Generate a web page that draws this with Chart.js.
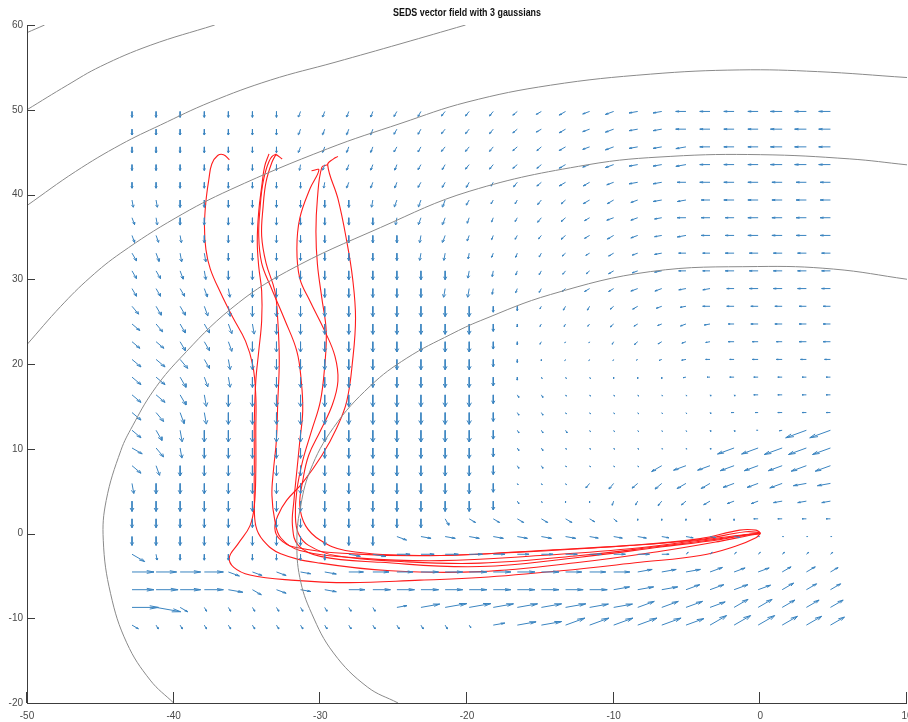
<!DOCTYPE html>
<html>
<head>
<meta charset="utf-8">
<script src="https://cdn.jsdelivr.net/npm/chart.js@4.4.1/dist/chart.umd.min.js"></script>
<style>
  html, body { margin: 0; padding: 0; background: #fff; }
  #wrap { width: 908px; height: 722px; position: relative; }
</style>
</head>
<body>
<div id="wrap"><canvas id="chart"></canvas></div>
<script>
const TITLE = 'SEDS vector field with 3 gaussians';
const xTicks = [-50, -40, -30, -20, -10, 0, 10];
const yTicks = [-20, -10, 0, 10, 20, 30, 40, 50, 60];

// quiver grid: x of each column, y of each row (arrow tails)
const gridX = [-42.84, -41.2, -39.56, -37.91, -36.27, -34.63, -32.99, -31.35, -29.7, -28.06,
  -26.42, -24.78, -23.14, -21.49, -19.85, -18.21, -16.57, -14.93, -13.28, -11.64,
  -10.0, -8.36, -6.72, -5.07, -3.43, -1.79, -0.15, 1.49, 3.14, 4.78];
const gridY = [49.8, 47.71, 45.62, 43.53, 41.44, 39.35, 37.26, 35.17, 33.08, 30.99,
  28.9, 26.81, 24.72, 22.63, 20.54, 18.45, 16.36, 14.27, 12.18, 10.09,
  8.0, 5.91, 3.82, 1.73, -0.36, -2.45, -4.54, -6.63, -8.72, -10.81];

// arrow direction per cell, base36 digit * 10 degrees (0 = right, 270 = down)
const dirRows = [
  'rrrrrrrppppoonn' + 'nmllkkjjiiiiiii',
  'rrrrrrrppppoonn' + 'nmllkkjjiiiiiii',
  'rrrrrrrppppoonn' + 'nmmlkkjjjiiiiii',
  'rrrrrrrqppppoon' + 'nmmlkkjjjiiiiii',
  'rrrrrrrrqpppooo' + 'onmllkjjiiiiiii',
  'ssrrrrrrrrqpppo' + 'oonmllkjjiiiiii',
  'tsrrrrrrrrrqppp' + 'ponmlkkjiiiiiii',
  'ttsrrrrrrrrrqpp' + 'ponmllkjjiiiiii',
  'utssrrrrrrrrqqq' + 'ppomllkjiiiiiii',
  'uutsrrrrrrrrrrq' + 'qponmlkjiiiiiii',
  'uuutsrrrrrrrrqq' + 'qpomllkkjjiiiii',
  'vuutsrrrrrrrrrr' + 'rrooomlkjiiiiii',
  'wvuutsrrrrrrrrr' + 'rroonmlkkjiiiii',
  'wwuutrrrrrrrrrr' + 'rroooomlkjiiiii',
  'wwvusrrrrrrrrrr' + 'rrrooolkjiiiiii',
  'wwutsrrrrrrrrrr' + 'rruuurrrjiiiiii',
  'wwusrrrrrrrrrrr' + 'ruuuuuuuuuuiiii',
  'wvtsrrrrrrrrrrr' + 'ruuuuuuuuuiiiii',
  'wusrrrrrrrrrrrr' + 'ruuuuuuuuuuijkk',
  'xvsrrrrrrrrrrrr' + 'ruuuuuuuuukkkkk',
  'wtrrrrrrrrrrrrr' + 'ruuuuuulkkkkkkk',
  'srrrrrrrrrrrrrr' + 'ruuunnmmllkkkjj',
  'rrrrrrrrrrrrrrr' + 'ruurrponmlkkjjj',
  'rrrrrrrrrrrrrux' + 'xxxxxwrrrrriiii',
  'rrrrrrrrrrryzzz' + 'zzzzzzzzzzz0000',
  'xsrrrrrrrzz0000' + '000000004444444',
  '0000yyyzz000000' + '000000111222333',
  '0000zxyzz000000' + '000001112222333',
  '0zxuuuuuuuu1111' + '111111222233333',
  'xuuuuuuuuuuuuuu' + '111222222333333'
];
// arrow length per cell, base36 digit (units of LEN_UNIT)
const lenRows = [
  '444444444444444' + '444556667777888',
  '444444444444444' + '444556667777888',
  '444444444444444' + '444556667777888',
  '444444444444444' + '444556667777888',
  '444444444444444' + '344555666777777',
  '555555555555554' + '334455566677777',
  '555555555555554' + '334445556667777',
  '555555555555554' + '333445556667777',
  '666655555555554' + '333334455566666',
  '666666666666665' + '433334455566666',
  '666666666666666' + '433344555556666',
  '777777777777777' + '432333444555555',
  '777777777777777' + '522223334445555',
  '777777777777777' + '522112333344455',
  '888777777777777' + '521111123334444',
  '888777777777777' + '621111112233333',
  '888888888888888' + '622111111113333',
  '888888888888888' + '622111111122333',
  '888888888888888' + '6222111111112ff',
  '887777777777777' + '6221111111ccddd',
  '877777777777777' + '6221111899aaabb',
  '777777777777777' + '611145567788999',
  '777777777777777' + '621113344555666',
  '666666666666655' + '555543111113333',
  '666666666667777' + '777766655441111',
  'a44444444899999' + '888888852222222',
  'feed87778abbccc' + 'cccbbbaaa988776',
  'ffeda7778bccccc' + 'cccccbbbaaa9988',
  'ih6333333337dff' + 'eeeeddcccbbbaaa',
  '533333333333332' + '8deeeeeeddddccb'
];

// gaussian contour arcs (gray)
const contour1 = [[-50, 59.1], [-48.8, 60]];
const contour2 = [[-50, 50.0], [-47.25, 52.9], [-45.0, 55.1], [-41.6, 57.6], [-37.2, 60.0]];
const contour3 = [[-50, 38.7], [-46.7, 42.7], [-43.6, 45.9], [-40.9, 48.2], [-37.5, 50.9], [-33.4, 53.5],
  [-29.0, 55.6], [-24.5, 57.8], [-20.1, 60.0]];
const contour4 = [[-50, 22.3], [-47.7, 26.8], [-45.7, 30.2], [-43.6, 33.1], [-39.9, 37.2], [-36.1, 40.6],
  [-29.5, 45.4], [-24.5, 48.4], [-20.0, 50.9], [-14.3, 52.9], [-7.5, 54.2], [-1.4, 54.7], [3.9, 54.5], [10, 53.8]];
const contour5 = [[-40.0, -20.0], [-41.6, -17.3], [-43.2, -12.9], [-44.3, -7.1], [-44.8, -0.8], [-44.6, 3.9],
  [-43.6, 9.8], [-42.8, 12.7], [-41.4, 16.8], [-39.6, 20.6], [-36.1, 26.5], [-32.3, 30.9], [-25.9, 36.1],
  [-19.8, 40.4], [-11.8, 43.5], [-6.1, 44.5], [0, 44.7], [6.1, 44.2], [10, 43.5]];
const contour6 = [[-24.7, -20.0], [-26.8, -18.1], [-29.1, -14.1], [-30.6, -9.4], [-31.4, -5.2], [-31.6, -0.8],
  [-31.4, 2.7], [-30.7, 7.4], [-29.1, 12.5], [-26.6, 17.4], [-24.1, 20.7], [-21.1, 23.5], [-19.1, 25.1],
  [-14.3, 28.2], [-7.5, 30.9], [-0.2, 31.5], [5.0, 31.2], [10, 30.0]];

// demonstration trajectories (red)
const traj1 = [[-36.2, 44.1], [-36.6, 44.7], [-37.0, 44.6], [-37.4, 43.6], [-37.6, 41.8], [-37.8, 39.2], [-37.9, 36.2],
  [-37.8, 33.5], [-37.5, 31.2], [-36.8, 28.4], [-36.0, 25.6], [-35.1, 22.7], [-34.6, 19.8], [-34.4, 16.2], [-34.4, 12.1],
  [-34.4, 7.4], [-34.5, 3.3], [-34.8, 0.9], [-35.6, -1.2], [-36.2, -2.8], [-35.9, -4.0], [-34.8, -4.9], [-32.0, -5.5],
  [-28.0, -5.8], [-23.2, -5.5], [-19.1, -5.2], [-13.6, -4.4], [-8.2, -3.4], [-4.1, -2.6], [-1.7, -1.5], [-0.3, -0.5], [0, 0]];
const traj2 = [[-33.5, 44.8], [-33.8, 43.3], [-34.0, 40.9], [-34.2, 38.0], [-34.3, 34.5], [-34.2, 31.5], [-34.0, 28.6],
  [-34.0, 25.1], [-34.2, 21.5], [-34.4, 18.0], [-34.5, 13.3], [-34.5, 8.6], [-34.5, 3.9], [-34.4, 0.9], [-33.9, -0.8],
  [-32.7, -2.4], [-30.0, -3.5], [-25.2, -4.4], [-19.1, -4.5], [-12.3, -3.4], [-6.8, -2.1], [-2.7, -0.9], [-0.7, -0.2], [0, 0]];
const traj3 = [[-32.6, 44.2], [-33.1, 44.7], [-33.5, 43.9], [-33.9, 41.5], [-34.1, 38.6], [-34.2, 35.1], [-34.0, 31.9],
  [-33.4, 29.2], [-32.4, 25.1], [-31.6, 21.5], [-31.3, 18.0], [-31.2, 14.5], [-31.4, 10.9], [-31.6, 7.4], [-31.8, 3.9],
  [-31.9, 0.9], [-31.5, -1.4], [-30.0, -2.7], [-25.9, -3.4], [-19.1, -3.9], [-12.3, -2.8], [-6.8, -1.6], [-2.7, -0.7],
  [-0.7, -0.1], [0, 0]];
const traj4 = [[-33.0, 44.8], [-33.3, 43.8], [-33.7, 41.5], [-33.9, 38.6], [-34.0, 35.1], [-33.7, 31.9], [-33.1, 28.6],
  [-32.9, 25.1], [-32.8, 20.4], [-32.9, 15.6], [-33.0, 10.9], [-33.2, 7.4], [-33.3, 4.5], [-33.1, 1.5], [-32.7, -0.5],
  [-31.4, -2.0], [-27.3, -2.9], [-21.8, -3.2], [-15.0, -2.6], [-8.9, -1.8], [-4.1, -0.8], [-1.4, -0.2], [0, 0]];
const traj5 = [[-30.6, 42.8], [-30.1, 42.9], [-30.7, 40.7], [-31.4, 37.2], [-31.6, 33.6], [-31.4, 30.1], [-30.7, 27.4],
  [-29.7, 23.9], [-29.0, 20.9], [-28.8, 18.0], [-29.2, 15.1], [-30.0, 12.1], [-30.8, 9.2], [-31.2, 6.2], [-31.4, 3.3],
  [-31.0, 0.9], [-30.0, -0.8], [-28.3, -2.0], [-23.2, -2.6], [-16.4, -2.2], [-9.6, -1.5], [-4.1, -0.7], [-1.0, 0.2], [0, 0.1]];
const traj6 = [[-29.5, 43.5], [-29.9, 43.2], [-30.2, 39.5], [-30.3, 35.6], [-30.2, 31.8], [-29.9, 27.8], [-29.6, 23.9],
  [-29.7, 19.8], [-30.0, 15.6], [-30.6, 12.1], [-31.2, 8.6], [-31.6, 5.1], [-31.7, 2.1], [-31.5, 0.0], [-30.8, -1.4],
  [-29.0, -2.6], [-24.5, -3.3], [-19.1, -3.5], [-12.3, -2.6], [-6.8, -1.5], [-2.7, -0.6], [-0.7, -0.1], [0, 0]];
const traj7 = [[-28.8, 44.5], [-29.1, 44.2], [-29.5, 43.5], [-28.8, 39.5], [-28.2, 34.5], [-27.8, 30.1], [-27.6, 25.4],
  [-27.8, 20.4], [-28.2, 15.6], [-28.9, 12.4], [-29.9, 9.2], [-31.2, 6.0], [-32.3, 3.9], [-32.9, 2.1], [-33.1, 0.6],
  [-32.8, -0.6], [-31.8, -1.6], [-27.8, -2.4], [-21.8, -2.6], [-15.0, -2.0], [-8.9, -1.4], [-4.1, -0.6], [-1.4, 0.4],
  [-0.3, 0.4], [0, 0.1]];

const contours = [contour1, contour2, contour3, contour4, contour5, contour6];
const trajectories = [traj1, traj2, traj3, traj4, traj5, traj6, traj7];

const ASPECT = (880 / 60) / (678 / 80);
const LEN_UNIT = 0.1;

function hasFont(name) {
  const c = document.createElement('canvas').getContext('2d');
  c.font = '20px monospace';
  const a = c.measureText('SEDS vector 0123').width;
  c.font = '20px "' + name + '", monospace';
  return c.measureText('SEDS vector 0123').width !== a;
}
const FONT = hasFont('Liberation Sans Narrow') ? '"Liberation Sans Narrow", "Liberation Sans", sans-serif'
  : '"Liberation Sans", Arial, sans-serif';
Chart.defaults.font.family = FONT;

function toPts(list) {
  return list.map(p => ({ x: p[0], y: p[1] }));
}

// quiver arrows: shaft + head (head built in data units, like matlab), separated by gaps
function quiverPoints() {
  const pts = [];
  const alpha = 0.33, beta = 0.33;
  for (let r = 0; r < gridY.length; r++) {
    for (let c = 0; c < gridX.length; c++) {
      const ang = parseInt(dirRows[r][c], 36) * 10 * Math.PI / 180;
      const m = parseInt(lenRows[r][c], 36) * LEN_UNIT;
      const x0 = gridX[c], y0 = gridY[r];
      const u = m * Math.cos(ang), v = m * Math.sin(ang) * ASPECT;
      const tx = x0 + u, ty = y0 + v;
      pts.push({ x: x0, y: y0 }, { x: tx, y: ty }, { x: tx, y: null });
      pts.push({ x: tx - alpha * (u + beta * v), y: ty - alpha * (v - beta * u) });
      pts.push({ x: tx, y: ty });
      pts.push({ x: tx - alpha * (u - beta * v), y: ty - alpha * (v + beta * u) });
      pts.push({ x: tx, y: null });
    }
  }
  return pts;
}

const axesPlugin = {
  id: 'matlabAxes',
  afterDatasetsDraw(chart) {
    const { ctx, chartArea: a, scales: { x, y } } = chart;
    ctx.save();
    ctx.strokeStyle = '#3c3c3c';
    ctx.lineWidth = 1;
    ctx.beginPath();
    ctx.moveTo(a.left + 0.5, a.top);
    ctx.lineTo(a.left + 0.5, a.bottom + 0.5);
    ctx.lineTo(a.right, a.bottom + 0.5);
    xTicks.forEach(v => {
      const px = Math.round(x.getPixelForValue(v)) - 0.5;
      ctx.moveTo(px, a.bottom);
      ctx.lineTo(px, a.bottom - 11);
    });
    yTicks.forEach(v => {
      const py = Math.round(y.getPixelForValue(v)) + 0.5;
      ctx.moveTo(a.left, py);
      ctx.lineTo(a.left + 8, py);
    });
    ctx.stroke();
    ctx.restore();
  }
};

const titlePlugin = {
  id: 'figTitle',
  afterDraw(chart) {
    const { ctx, chartArea: a } = chart;
    ctx.save();
    ctx.font = 'bold 11px ' + FONT;
    ctx.fillStyle = '#111';
    ctx.textAlign = 'center';
    ctx.textBaseline = 'middle';
    const w = ctx.measureText(TITLE).width;
    ctx.translate((a.left + a.right) / 2, 13);
    if (w > 148) ctx.scale(148 / w, 1);
    ctx.fillText(TITLE, 0, 0);
    ctx.restore();
  }
};

const datasets = [];
contours.forEach(c => datasets.push({
  data: toPts(c), showLine: true, borderColor: '#8a8a8a', borderWidth: 1,
  pointRadius: 0, tension: 0.4, fill: false
}));
datasets.push({
  data: quiverPoints(), showLine: true, borderColor: '#3a84c0', borderWidth: 1,
  pointRadius: 0, tension: 0, spanGaps: false
});
trajectories.forEach(t => datasets.push({
  data: toPts(t), showLine: true, borderColor: '#ff1c1c', borderWidth: 1.1,
  pointRadius: 0, tension: 0.4, fill: false
}));

new Chart(document.getElementById('chart'), {
  type: 'scatter',
  data: { datasets },
  options: {
    responsive: true,
    maintainAspectRatio: false,
    animation: false,
    devicePixelRatio: 1,
    events: [],
    layout: { padding: { top: 25, right: 1, left: 0, bottom: 0 } },
    plugins: { legend: { display: false }, tooltip: { enabled: false }, title: { display: false } },
    scales: {
      x: {
        type: 'linear', min: -50, max: 10,
        afterBuildTicks: s => { s.ticks = xTicks.map(v => ({ value: v })); },
        ticks: { color: '#4a4a4a', font: { size: 10 }, padding: 7, maxRotation: 0, autoSkip: false },
        grid: { display: false, drawTicks: false },
        border: { display: false },
        afterFit: s => { s.height = 19; s.paddingLeft = 0; s.paddingRight = 0; }
      },
      y: {
        type: 'linear', min: -20, max: 60,
        afterBuildTicks: s => { s.ticks = yTicks.map(v => ({ value: v })); },
        ticks: { color: '#4a4a4a', font: { size: 10 }, padding: 4, autoSkip: false },
        grid: { display: false, drawTicks: false },
        border: { display: false },
        afterFit: s => { s.width = 27; s.paddingTop = 0; s.paddingBottom = 0; }
      }
    }
  },
  plugins: [axesPlugin, titlePlugin]
});
</script>
</body>
</html>
